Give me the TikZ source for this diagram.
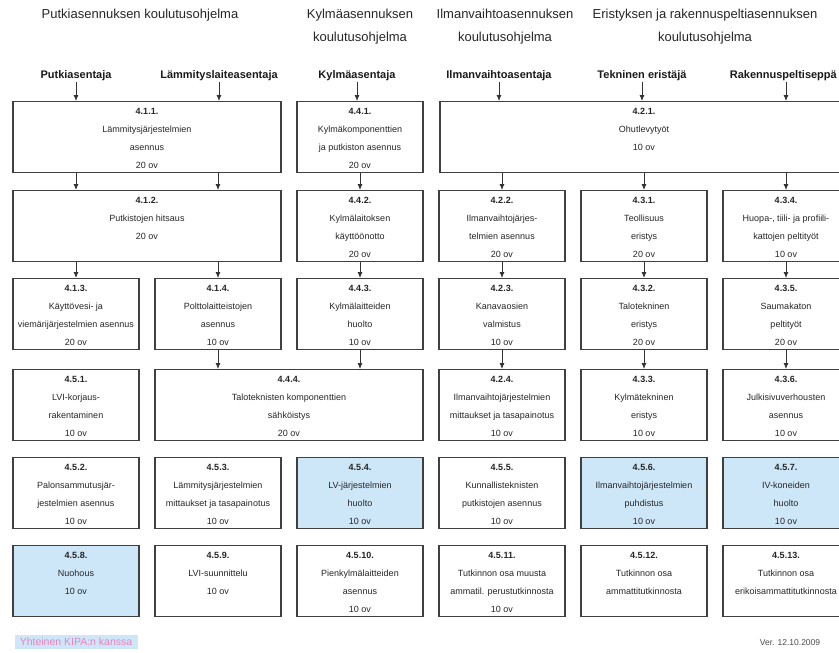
\documentclass[tikz,border=0pt]{standalone}
\usepackage{fontspec}
\setmainfont{Liberation Sans}
\usetikzlibrary{arrows.meta}
\definecolor{kipa}{RGB}{205,231,248}
\definecolor{kipateksti}{RGB}{236,128,196}
\tikzset{
  modul/.style={draw=black!75, line width=1.1pt, fill=white, anchor=north, inner sep=0pt,
    minimum width=#1, minimum height=71pt, text=black!85,
    execute at begin node={\begin{minipage}[t][71pt][t]{\dimexpr#1-6pt\relax}\centering\fontsize{9}{18}\selectfont\strut},
    execute at end node={\end{minipage}}},
  modul/.default=126pt,
  otsikko/.style={align=center, text=black!85, font=\fontsize{13}{23}\selectfont},
  ammatti/.style={text=black!90, inner sep=1pt, font=\bfseries\fontsize{11}{13}\selectfont},
  pil/.style={draw=black!80, line width=0.8pt, -{Latex[length=6pt,width=5pt]}}
}
\begin{document}
\begin{tikzpicture}[x=1pt,y=-1pt]
\useasboundingbox (0,0) rectangle (839,653);
\node[otsikko] (t1) at (140,15) {Putkiasennuksen koulutusohjelma};
\node[otsikko] (t2) at (360,27) {Kylmäasennuksen\\koulutusohjelma};
\node[otsikko] (t3) at (505,27) {Ilmanvaihtoasennuksen\\koulutusohjelma};
\node[otsikko] (t4) at (705,27) {Eristyksen ja rakennuspeltiasennuksen\\koulutusohjelma};

\node[ammatti] (pa) at (76,76) {Putkiasentaja};
\node[ammatti] (la) at (219,76) {Lämmityslaiteasentaja};
\node[ammatti] (ka) at (357,76) {Kylmäasentaja};
\node[ammatti] (ia) at (499,76) {Ilmanvaihtoasentaja};
\node[ammatti] (te) at (642,76) {Tekninen eristäjä};
\node[ammatti, anchor=east] (rp) at (838,76) {Rakennuspeltiseppä};

\node[modul=268pt] (411) at (147,101) {\textbf{4.1.1.}\\Lämmitysjärjestelmien\\asennus\\20 ov};
\node[modul] (441) at (360,101) {\textbf{4.4.1.}\\Kylmäkomponenttien\\ja putkiston asennus\\20 ov};
\node[modul=408pt] (421) at (644,101) {\textbf{4.2.1.}\\Ohutlevytyöt\\10 ov};

\node[modul=268pt] (412) at (147,190) {\textbf{4.1.2.}\\Putkistojen hitsaus\\20 ov};
\node[modul] (442) at (360,190) {\textbf{4.4.2.}\\Kylmälaitoksen\\käyttöönotto\\20 ov};
\node[modul] (422) at (502,190) {\textbf{4.2.2.}\\Ilmanvaihtojärjes-\\telmien asennus\\20 ov};
\node[modul] (431) at (644,190) {\textbf{4.3.1.}\\Teollisuus\\eristys\\20 ov};
\node[modul] (434) at (786,190) {\textbf{4.3.4.}\\Huopa-, tiili- ja profiili-\\kattojen peltityöt\\10 ov};

\node[modul] (413) at (76,278) {\textbf{4.1.3.}\\Käyttövesi- ja\\viemärijärjestelmien asennus\\20 ov};
\node[modul] (414) at (218,278) {\textbf{4.1.4.}\\Polttolaitteistojen\\asennus\\10 ov};
\node[modul] (443) at (360,278) {\textbf{4.4.3.}\\Kylmälaitteiden\\huolto\\10 ov};
\node[modul] (423) at (502,278) {\textbf{4.2.3.}\\Kanavaosien\\valmistus\\10 ov};
\node[modul] (432) at (644,278) {\textbf{4.3.2.}\\Talotekninen\\eristys\\20 ov};
\node[modul] (435) at (786,278) {\textbf{4.3.5.}\\Saumakaton\\peltityöt\\20 ov};

\node[modul] (451) at (76,369) {\textbf{4.5.1.}\\LVI-korjaus-\\rakentaminen\\10 ov};
\node[modul=268pt] (444) at (289,369) {\textbf{4.4.4.}\\Taloteknisten komponenttien\\sähköistys\\20 ov};
\node[modul] (424) at (502,369) {\textbf{4.2.4.}\\Ilmanvaihtojärjestelmien\\mittaukset ja tasapainotus\\10 ov};
\node[modul] (433) at (644,369) {\textbf{4.3.3.}\\Kylmätekninen\\eristys\\10 ov};
\node[modul] (436) at (786,369) {\textbf{4.3.6.}\\Julkisivuverhousten\\asennus\\10 ov};

\node[modul] (452) at (76,457) {\textbf{4.5.2.}\\Palonsammutusjär-\\jestelmien asennus\\10 ov};
\node[modul] (453) at (218,457) {\textbf{4.5.3.}\\Lämmitysjärjestelmien\\mittaukset ja tasapainotus\\10 ov};
\node[modul, fill=kipa] (454) at (360,457) {\textbf{4.5.4.}\\LV-järjestelmien\\huolto\\10 ov};
\node[modul] (455) at (502,457) {\textbf{4.5.5.}\\Kunnallisteknisten\\putkistojen asennus\\10 ov};
\node[modul, fill=kipa] (456) at (644,457) {\textbf{4.5.6.}\\Ilmanvaihtojärjestelmien\\puhdistus\\10 ov};
\node[modul, fill=kipa] (457) at (786,457) {\textbf{4.5.7.}\\IV-koneiden\\huolto\\10 ov};

\node[modul, fill=kipa] (458) at (76,545) {\textbf{4.5.8.}\\Nuohous\\10 ov};
\node[modul] (459) at (218,545) {\textbf{4.5.9.}\\LVI-suunnittelu\\10 ov};
\node[modul] (4510) at (360,545) {\textbf{4.5.10.}\\Pienkylmälaitteiden\\asennus\\10 ov};
\node[modul] (4511) at (502,545) {\textbf{4.5.11.}\\Tutkinnon osa muusta\\ammatil. perustutkinnosta\\10 ov};
\node[modul] (4512) at (644,545) {\textbf{4.5.12.}\\Tutkinnon osa\\ammattitutkinnosta};
\node[modul] (4513) at (786,545) {\textbf{4.5.13.}\\Tutkinnon osa\\erikoisammattitutkinnosta};

\node[fill=kipa, text=kipateksti, inner xsep=2pt, inner ysep=3pt, minimum width=123pt, font=\fontsize{10.5}{12}\selectfont] (kipa) at (76,642) {Yhteinen KIPA:n kanssa};
\node[text=black!70, font=\fontsize{8.5}{10}\selectfont] (ver) at (790,643) {Ver. 12.10.2009};

\path[pil] (pa.south) -- (pa.south |- 411.north);
\path[pil] (la.south) -- (la.south |- 411.north);
\path[pil] (ka.south) -- (ka.south |- 441.north);
\path[pil] (ia.south) -- (ia.south |- 421.north);
\path[pil] (te.south) -- (te.south |- 421.north);
\path[pil] (rp.south -| 434) -- (421.north -| 434);

\path[pil] (411.south -| 413) -- (412.north -| 413);
\path[pil] (411.south -| 414) -- (412.north -| 414);
\path[pil] (441) -- (442);
\path[pil] (421.south -| 422) -- (422);
\path[pil] (421.south -| 431) -- (431);
\path[pil] (421.south -| 434) -- (434);

\path[pil] (412.south -| 413) -- (413);
\path[pil] (412.south -| 414) -- (414);
\path[pil] (442) -- (443);
\path[pil] (422) -- (423);
\path[pil] (431) -- (432);
\path[pil] (434) -- (435);

\path[pil] (414) -- (414.south |- 444.north);
\path[pil] (443) -- (443.south |- 444.north);
\path[pil] (423) -- (424);
\path[pil] (432) -- (433);
\path[pil] (435) -- (436);
\end{tikzpicture}
\end{document}
